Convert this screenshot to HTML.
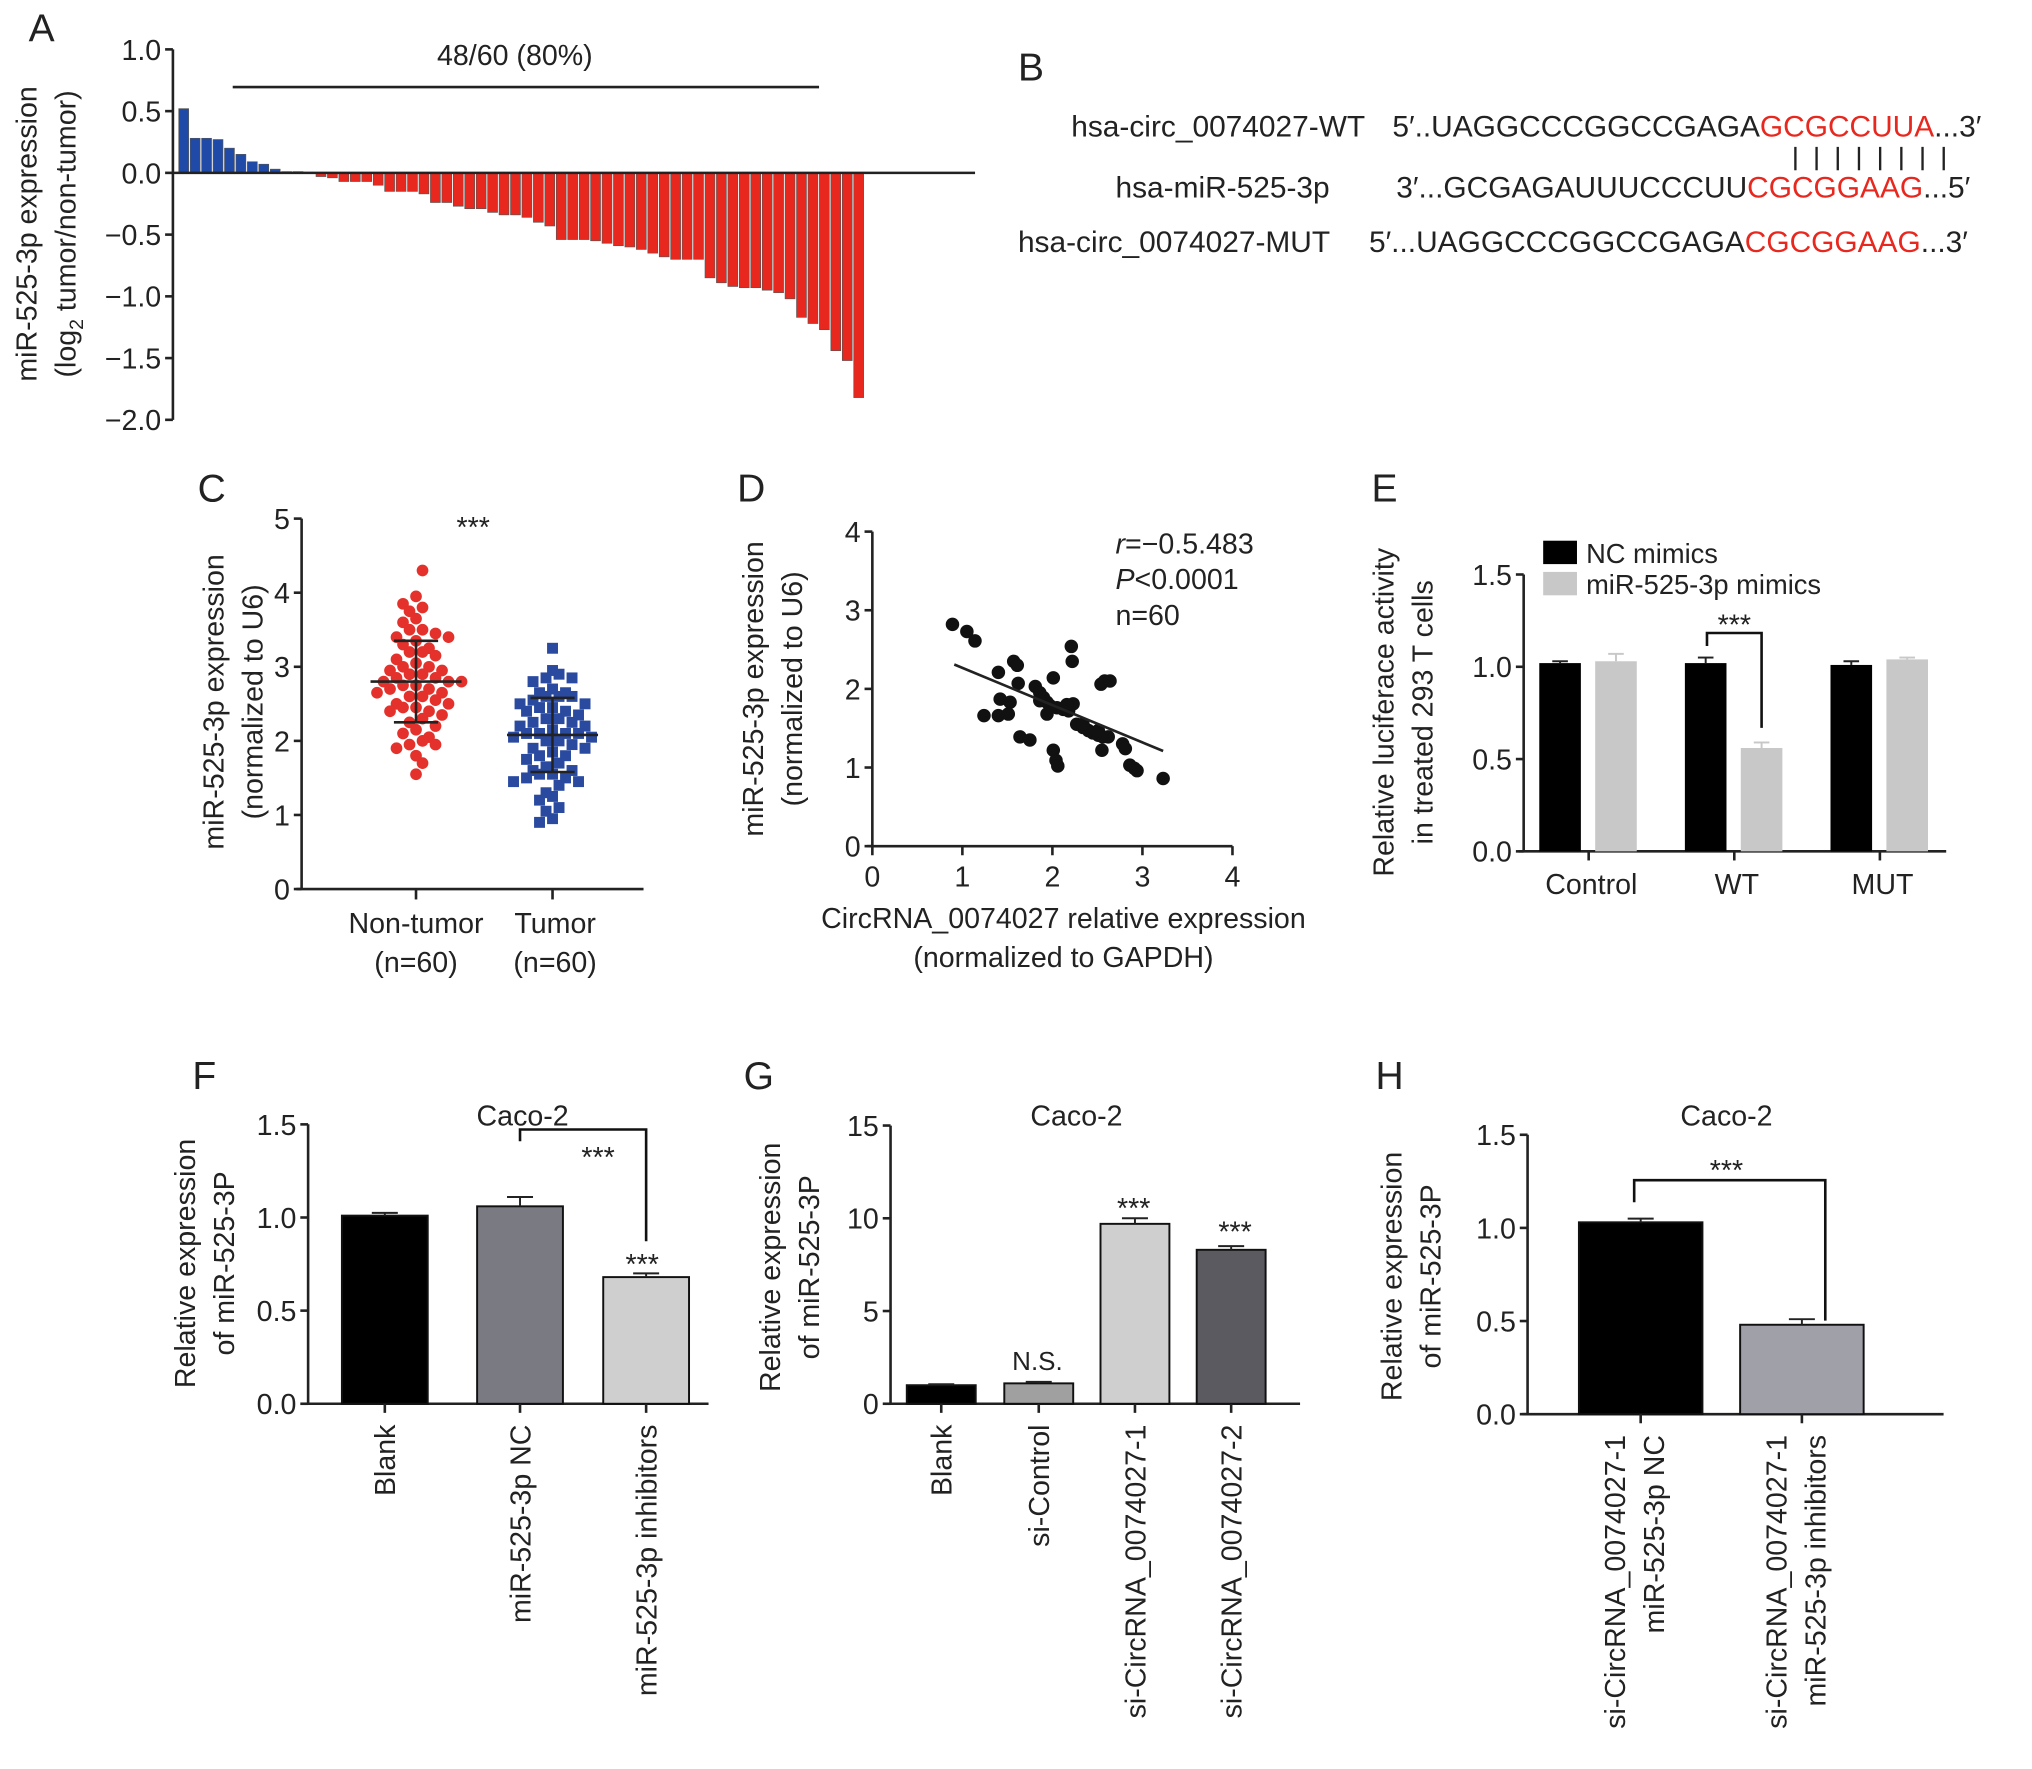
<!DOCTYPE html>
<html><head><meta charset="utf-8"><style>
html,body{margin:0;padding:0;background:#fff;}
svg{display:block;font-family:"Liberation Sans",Arial,sans-serif;}
</style></head><body>
<svg id="fig" width="2032" height="1769" viewBox="0 0 1563 1361" preserveAspectRatio="none" xmlns="http://www.w3.org/2000/svg">
<rect x="0" y="0" width="1563" height="1361" fill="#fff"/>
</svg>
<script>
// ---------- Data ----------
const aBlue = [0.52,0.28,0.28,0.27,0.20,0.15,0.09,0.07,0.03,0.01,0.01,0.005];
const aRed = [-0.03,-0.04,-0.07,-0.07,-0.07,-0.10,-0.15,-0.15,-0.15,-0.17,-0.24,-0.24,-0.27,-0.29,-0.29,-0.32,-0.34,-0.34,-0.36,-0.40,-0.43,-0.54,-0.54,-0.54,-0.55,-0.57,-0.59,-0.60,-0.62,-0.65,-0.68,-0.70,-0.70,-0.70,-0.85,-0.89,-0.92,-0.93,-0.93,-0.95,-0.97,-1.02,-1.17,-1.22,-1.27,-1.44,-1.52,-1.82];
const aTicks = [1.0,0.5,0.0,-0.5,-1.0,-1.5,-2.0];
const aTickLabels = ["1.0","0.5","0.0","\u22120.5","\u22121.0","\u22121.5","\u22122.0"];

const cNonTumor = [4.3,3.95,3.85,3.8,3.75,3.65,3.6,3.5,3.5,3.45,3.4,3.4,3.35,3.3,3.25,3.2,3.2,3.15,3.1,3.05,3.0,3.0,2.95,2.95,2.9,2.9,2.85,2.85,2.8,2.8,2.8,2.75,2.75,2.7,2.7,2.65,2.65,2.6,2.6,2.55,2.5,2.5,2.45,2.45,2.4,2.4,2.35,2.3,2.25,2.2,2.15,2.1,2.05,2.0,1.95,1.95,1.9,1.8,1.7,1.55];
const cTumor = [3.25,2.95,2.9,2.85,2.85,2.8,2.7,2.65,2.65,2.6,2.6,2.6,2.55,2.5,2.5,2.45,2.45,2.4,2.4,2.35,2.3,2.3,2.25,2.25,2.2,2.2,2.15,2.1,2.1,2.1,2.1,2.05,2.05,2.0,2.0,1.95,1.9,1.9,1.85,1.8,1.8,1.75,1.7,1.65,1.6,1.6,1.55,1.55,1.5,1.5,1.45,1.45,1.4,1.3,1.25,1.2,1.1,1.05,0.95,0.9];
const cMeans = [2.8,2.08];
const cSD = [0.55,0.5];
const cTicks = [0,1,2,3,4,5];

const dX = [0.89,1.05,1.14,1.40,1.57,1.61,1.62,1.81,1.86,1.90,1.94,1.97,2.01,2.05,2.12,2.18,2.21,2.22,2.23,2.27,2.34,2.40,2.45,2.51,2.56,2.62,2.54,2.58,2.64,1.42,1.53,1.24,1.40,1.51,1.64,1.75,2.01,2.04,2.06,2.55,2.78,2.81,2.86,2.91,2.94,3.23,1.94,1.86,2.16,2.34,2.51];
const dY = [2.82,2.73,2.61,2.21,2.35,2.30,2.07,2.03,1.95,1.89,1.83,1.79,2.14,1.76,1.74,1.72,2.54,2.35,1.81,1.55,1.51,1.47,1.44,1.41,1.39,1.39,2.06,2.10,2.10,1.87,1.83,1.66,1.66,1.68,1.39,1.35,1.22,1.09,1.02,1.22,1.30,1.24,1.03,0.99,0.96,0.86,1.68,1.85,1.80,1.55,1.47];
const dFitX = [0.91,3.23];
const dFitY = [2.31,1.21];
const dTicks = [0,1,2,3,4];

const eCats = ["Control","WT","MUT"];
const eNC = [1.02,1.02,1.01];
const eNCerr = [0.01,0.03,0.02];
const eMim = [1.03,0.56,1.04];
const eMimErr = [0.04,0.03,0.01];
const eTicks = [0,0.5,1.0,1.5];

const fCats = ["Blank","miR-525-3p NC","miR-525-3p inhibitors"];
const fVals = [1.01,1.06,0.68];
const fErr = [0.015,0.05,0.02];
const fTicks = [0,0.5,1.0,1.5];

const gCats = ["Blank","si-Control","si-CircRNA_0074027-1","si-CircRNA_0074027-2"];
const gVals = [1.0,1.1,9.7,8.3];
const gErr = [0.05,0.08,0.3,0.2];
const gTicks = [0,5,10,15];

const hCats = [["si-CircRNA_0074027-1","miR-525-3p NC"],["si-CircRNA_0074027-1","miR-525-3p inhibitors"]];
const hVals = [1.03,0.48];
const hErr = [0.02,0.03];
const hTicks = [0,0.5,1.0,1.5];

// ---------- helpers ----------
const svg = document.getElementById('fig');
const NS = 'http://www.w3.org/2000/svg';
function mk(tag, attrs, name, parent) {
  const el = document.createElementNS(NS, tag);
  for (const k in attrs) el.setAttribute(k, attrs[k]);
  
  
  (parent || svg).appendChild(el);
  return el;
}
function txt(s, x, y, size, name, opts) {
  opts = opts || {};
  const a = {x:x, y:y, 'font-size':size, fill:opts.fill||'#222', 'text-anchor':opts.anchor||'start'};
  if (opts.rot !== undefined) a.transform = 'rotate(' + opts.rot + ' ' + x + ' ' + y + ')';
  if (opts.style) a['font-style'] = opts.style;
  const t = mk('text', a, name);
  t.textContent = s;
  return t;
}
function line(x1,y1,x2,y2,name,w,c){ return mk('line',{x1:x1,y1:y1,x2:x2,y2:y2,stroke:c||'#222','stroke-width':w||2},name); }
function yAxis(x, y0, y1, ticks, scale, labels, name, fs) {
  line(x, y0, x, y1, name + '-line');
  ticks.forEach((t,i) => {
    const y = scale(t);
    line(x-6, y, x, y, name + '-tick');
    txt(labels ? labels[i] : String(t), x-9, y+8, fs||22, name + '-tick-label', {anchor:'end'});
  });
}

// ---------- Panel A ----------
txt('A', 22, 32, 30, 'panel-a-label');
const aY = v => 133 - v * 95;
yAxis(133, 38, 323, aTicks, aY, aTickLabels, 'a-y-axis');
const aAll = aBlue.concat(aRed);
const aBw = (665 - 137) / aAll.length;
aAll.forEach((v,i) => {
  const x = 137 + i * aBw;
  const y0 = aY(0), y1 = aY(v);
  mk('rect', {x:x+0.5, y:Math.min(y0,y1), width:aBw-1.2, height:Math.max(0.8,Math.abs(y1-y0)), fill: i < aBlue.length ? '#1f4aa8' : '#e8281e', stroke:'#555', 'stroke-width':0.5}, 'a-bar');
});
line(133, aY(0), 750, aY(0), 'a-zero-line', 2);
line(179, 67, 630, 67, 'a-range-line', 2);
txt('48/60 (80%)', 396, 50, 22, 'a-annotation', {anchor:'middle'});
txt('miR-525-3p expression', 28, 180, 22, 'a-y-title', {anchor:'middle', rot:-90});
(function(){
  const t = mk('text', {x:58, y:180, 'font-size':22, fill:'#222', 'text-anchor':'middle', transform:'rotate(-90 58 180)'}, 'a-y-title-2');
  t.innerHTML = '(log<tspan font-size="15" dy="6">2</tspan><tspan dy="-6"> tumor/non-tumor)</tspan>';
})();

// ---------- Panel B ----------
txt('B', 783, 62, 30, 'panel-b-label');
const bfs = 23;
(function(){
  const rows = [
    {y:105, label:'hsa-circ_0074027-WT', lx:824, seq:'5\u2032..UAGGCCCGGCCGAGA', red:'GCGCCUUA', end:'...3\u2032', sx:1071},
    {y:152, label:'hsa-miR-525-3p', lx:858, seq:'3\u2032...GCGAGAUUUCCCUU', red:'CGCGGAAG', end:'...5\u2032', sx:1074},
    {y:194, label:'hsa-circ_0074027-MUT', lx:783, seq:'5\u2032...UAGGCCCGGCCGAGA', red:'CGCGGAAG', end:'...3\u2032', sx:1053}
  ];
  rows.forEach((r,i) => {
    txt(r.label, r.lx, r.y, bfs, 'b-seq-name');
    const t = mk('text', {x:r.sx, y:r.y, 'font-size':bfs, fill:'#222'}, 'b-sequence');
    t.innerHTML = r.seq + '<tspan fill="#e8281e">' + r.red + '</tspan>' + r.end;
  });
  for (let k = 0; k < 8; k++) line(1381 + k*16.3, 113, 1381 + k*16.3, 131, 'b-pair-bar', 1.8);
})();

// ---------- Panel C ----------
txt('C', 152, 386, 30, 'panel-c-label');
const cY = v => 684 - v * 57;
yAxis(232, 399, 684, cTicks, cY, null, 'c-y-axis');
line(228, 684, 495, 684, 'c-x-axis');
const cX = [320, 425];
cX.forEach(x => line(x, 684, x, 692, 'c-x-tick'));
txt('Non-tumor', 320, 718, 22, 'c-x-label', {anchor:'middle'});
txt('(n=60)', 320, 748, 22, 'c-x-label', {anchor:'middle'});
txt('Tumor', 427, 718, 22, 'c-x-label', {anchor:'middle'});
txt('(n=60)', 427, 748, 22, 'c-x-label', {anchor:'middle'});
txt('***', 364, 413, 22, 'c-significance', {anchor:'middle'});
txt('miR-525-3p expression', 172, 540, 22, 'c-y-title', {anchor:'middle', rot:-90});
txt('(normalized to U6)', 202, 540, 22, 'c-y-title', {anchor:'middle', rot:-90});
function swarm(vals, cx, g) {
  const bins = {};
  vals.forEach(v => {
    const b = Math.round(v / 0.15);
    bins[b] = (bins[b] || 0) + 1;
    const k = bins[b] - 1;
    const off = (k % 2 === 0 ? 1 : -1) * Math.ceil(k / 2) * 10 + ((b % 2) ? 5 : 0);
    const x = cx + off, y = cY(v);
    if (g === 0) {
      mk('circle', {cx:x, cy:y, r:4.5, fill:'#e4312b'}, 'c-nontumor-point');
    } else {
      mk('rect', {x:x-4.2, y:y-4.2, width:8.4, height:8.4, fill:'#2a4aa0'}, 'c-tumor-point');
    }
  });
}
swarm(cNonTumor, cX[0], 0);
swarm(cTumor, cX[1], 1);
cMeans.forEach((m,i) => {
  const x = cX[i];
  line(x-35, cY(m), x+35, cY(m), 'c-mean-line', 2);
  line(x, cY(m+cSD[i]), x, cY(m-cSD[i]), 'c-sd-line', 2);
  line(x-17, cY(m+cSD[i]), x+17, cY(m+cSD[i]), 'c-sd-cap', 2);
  line(x-17, cY(m-cSD[i]), x+17, cY(m-cSD[i]), 'c-sd-cap', 2);
});

// ---------- Panel D ----------
txt('D', 567, 386, 30, 'panel-d-label');
const dXs = v => 671 + v * 69.25;
const dYs = v => 651 - v * 60.5;
yAxis(671, 409, 651, dTicks, dYs, null, 'd-y-axis');
line(667, 651, 948, 651, 'd-x-axis');
dTicks.forEach(t => {
  line(dXs(t), 651, dXs(t), 658, 'd-x-tick');
  txt(String(t), dXs(t), 682, 22, 'd-x-tick-label', {anchor:'middle'});
});
dX.forEach((x,i) => mk('circle', {cx:dXs(x), cy:dYs(dY[i]), r:5.2, fill:'#111'}, 'd-point'));
line(dXs(dFitX[0]), dYs(dFitY[0]), dXs(dFitX[1]), dYs(dFitY[1]), 'd-fit-line', 2);
(function(){
  const t = mk('text', {x:858, y:426, 'font-size':22, fill:'#222'}, 'd-r-value');
  t.innerHTML = '<tspan font-style="italic">r</tspan>=\u22120.5.483';
  const p = mk('text', {x:858, y:453, 'font-size':22, fill:'#222'}, 'd-p-value');
  p.innerHTML = '<tspan font-style="italic">P</tspan>&lt;0.0001';
})();
txt('n=60', 858, 481, 22, 'd-n-value');
txt('CircRNA_0074027 relative expression', 818, 714, 22, 'd-x-title', {anchor:'middle'});
txt('(normalized to GAPDH)', 818, 744, 22, 'd-x-title', {anchor:'middle'});
txt('miR-525-3p expression', 587, 530, 22, 'd-y-title', {anchor:'middle', rot:-90});
txt('(normalized to U6)', 617, 530, 22, 'd-y-title', {anchor:'middle', rot:-90});

// ---------- Panel E ----------
txt('E', 1055, 386, 30, 'panel-e-label');
const eY = v => 655 - v * 142;
yAxis(1172, 442, 655, eTicks, eY, ['0.0','0.5','1.0','1.5'], 'e-y-axis');
line(1168, 655, 1497, 655, 'e-x-axis');
const eCx = [1222, 1334, 1446];
const eBw = 32;
eCats.forEach((c,i) => {
  const cx = eCx[i];
  line(cx, 655, cx, 662, 'e-x-tick');
  txt(c, cx+2, 688, 22, 'e-x-label', {anchor:'middle'});
  const x1 = cx - 22, x2 = cx + 21;
  mk('rect', {x:x1-eBw/2, y:eY(eNC[i]), width:eBw, height:eY(0)-eY(eNC[i]), fill:'#000'}, 'e-bar-nc');
  line(x1, eY(eNC[i]+eNCerr[i]), x1, eY(eNC[i]), 'e-error-bar', 1.5);
  line(x1-6, eY(eNC[i]+eNCerr[i]), x1+6, eY(eNC[i]+eNCerr[i]), 'e-error-cap', 1.5);
  mk('rect', {x:x2-eBw/2, y:eY(eMim[i]), width:eBw, height:eY(0)-eY(eMim[i]), fill:'#c8c8c8'}, 'e-bar-mimic');
  line(x2, eY(eMim[i]+eMimErr[i]), x2, eY(eMim[i]), 'e-error-bar', 1.5, '#c8c8c8');
  line(x2-6, eY(eMim[i]+eMimErr[i]), x2+6, eY(eMim[i]+eMimErr[i]), 'e-error-cap', 1.5, '#c8c8c8');
});
mk('path', {d:'M1313 497 V487 H1355 V560', fill:'none', stroke:'#111', 'stroke-width':2}, 'e-bracket');
txt('***', 1334, 488, 22, 'e-significance', {anchor:'middle'});
mk('rect', {x:1187, y:416, width:26, height:18, fill:'#000'}, 'e-legend-swatch-nc');
txt('NC mimics', 1220, 433, 21, 'e-legend-label');
mk('rect', {x:1187, y:440, width:26, height:18, fill:'#c8c8c8'}, 'e-legend-swatch-mimic');
txt('miR-525-3p mimics', 1220, 457, 21, 'e-legend-label');
txt('Relative luciferace activity', 1072, 548, 22, 'e-y-title', {anchor:'middle', rot:-90});
txt('in treated 293 T cells', 1102, 548, 22, 'e-y-title', {anchor:'middle', rot:-90});

// ---------- generic bar panel ----------
function barPanel(o) {
  const Y = v => o.y0 - v * o.k;
  yAxis(o.ax, o.ytop, o.y0, o.ticks, Y, o.tickLabels, o.p + '-y-axis');
  line(o.ax-4, o.y0, o.axEnd, o.y0, o.p + '-x-axis');
  o.vals.forEach((v,i) => {
    const cx = o.cx[i];
    mk('rect', {x:cx-o.bw/2, y:Y(v), width:o.bw, height:o.y0-Y(v), fill:o.colors[i], stroke:'#111', 'stroke-width':1.5}, o.p + '-bar');
    line(cx, Y(v+o.err[i]), cx, Y(v), o.p + '-error-bar', 1.5);
    line(cx-10, Y(v+o.err[i]), cx+10, Y(v+o.err[i]), o.p + '-error-cap', 1.5);
    line(cx, o.y0, cx, o.y0+7, o.p + '-x-tick');
    const labs = o.cats[i];
    if (Array.isArray(labs)) {
      labs.forEach((s,j) => txt(s, cx - 12 + j*30, o.y0 + 16, 22, o.p + '-x-label', {anchor:'end', rot:-90}));
    } else {
      txt(labs, cx + 8, o.y0 + 16, 22, o.p + '-x-label', {anchor:'end', rot:-90});
    }
  });
  txt('Caco-2', o.titleX, 866, 22, o.p + '-title', {anchor:'middle'});
  txt('Relative expression', o.ytx, o.yty, 22, o.p + '-y-title', {anchor:'middle', rot:-90});
  txt('of miR-525-3P', o.ytx+30, o.yty, 22, o.p + '-y-title', {anchor:'middle', rot:-90});
  return Y;
}

// F
txt('F', 148, 838, 30, 'panel-f-label');
barPanel({p:'f', ax:237, y0:1080, ytop:865, k:143.3, ticks:fTicks, tickLabels:['0.0','0.5','1.0','1.5'], axEnd:545,
  vals:fVals, err:fErr, cats:fCats, cx:[296,400,497], bw:66, colors:['#000','#7a7a82','#cfcfcf'], titleX:402, ytx:150, yty:972});
mk('path', {d:'M400 878 V869 H497 V955', fill:'none', stroke:'#111', 'stroke-width':2}, 'f-bracket');
txt('***', 460, 898, 22, 'f-significance', {anchor:'middle'});
txt('***', 494, 980, 22, 'f-significance', {anchor:'middle'});

// G
txt('G', 572, 838, 30, 'panel-g-label');
barPanel({p:'g', ax:685, y0:1080, ytop:866, k:14.27, ticks:gTicks, tickLabels:null, axEnd:1000,
  vals:gVals, err:gErr, cats:gCats, cx:[724,799,873,947], bw:53, colors:['#000','#a0a0a0','#cfcfcf','#5a5a60'], titleX:828, ytx:600, yty:975});
txt('N.S.', 798, 1054, 20, 'g-significance', {anchor:'middle'});
txt('***', 872, 937, 22, 'g-significance', {anchor:'middle'});
txt('***', 950, 955, 22, 'g-significance', {anchor:'middle'});

// H
txt('H', 1058, 838, 30, 'panel-h-label');
barPanel({p:'h', ax:1175, y0:1088, ytop:873, k:143.3, ticks:hTicks, tickLabels:['0.0','0.5','1.0','1.5'], axEnd:1495,
  vals:hVals, err:hErr, cats:hCats, cx:[1262,1386], bw:95, colors:['#000','#a0a0a8'], titleX:1328, ytx:1078, yty:982});
mk('path', {d:'M1257 925 V908 H1404 V1016', fill:'none', stroke:'#111', 'stroke-width':2}, 'h-bracket');
txt('***', 1328, 908, 22, 'h-significance', {anchor:'middle'});
</script>
</body></html>
